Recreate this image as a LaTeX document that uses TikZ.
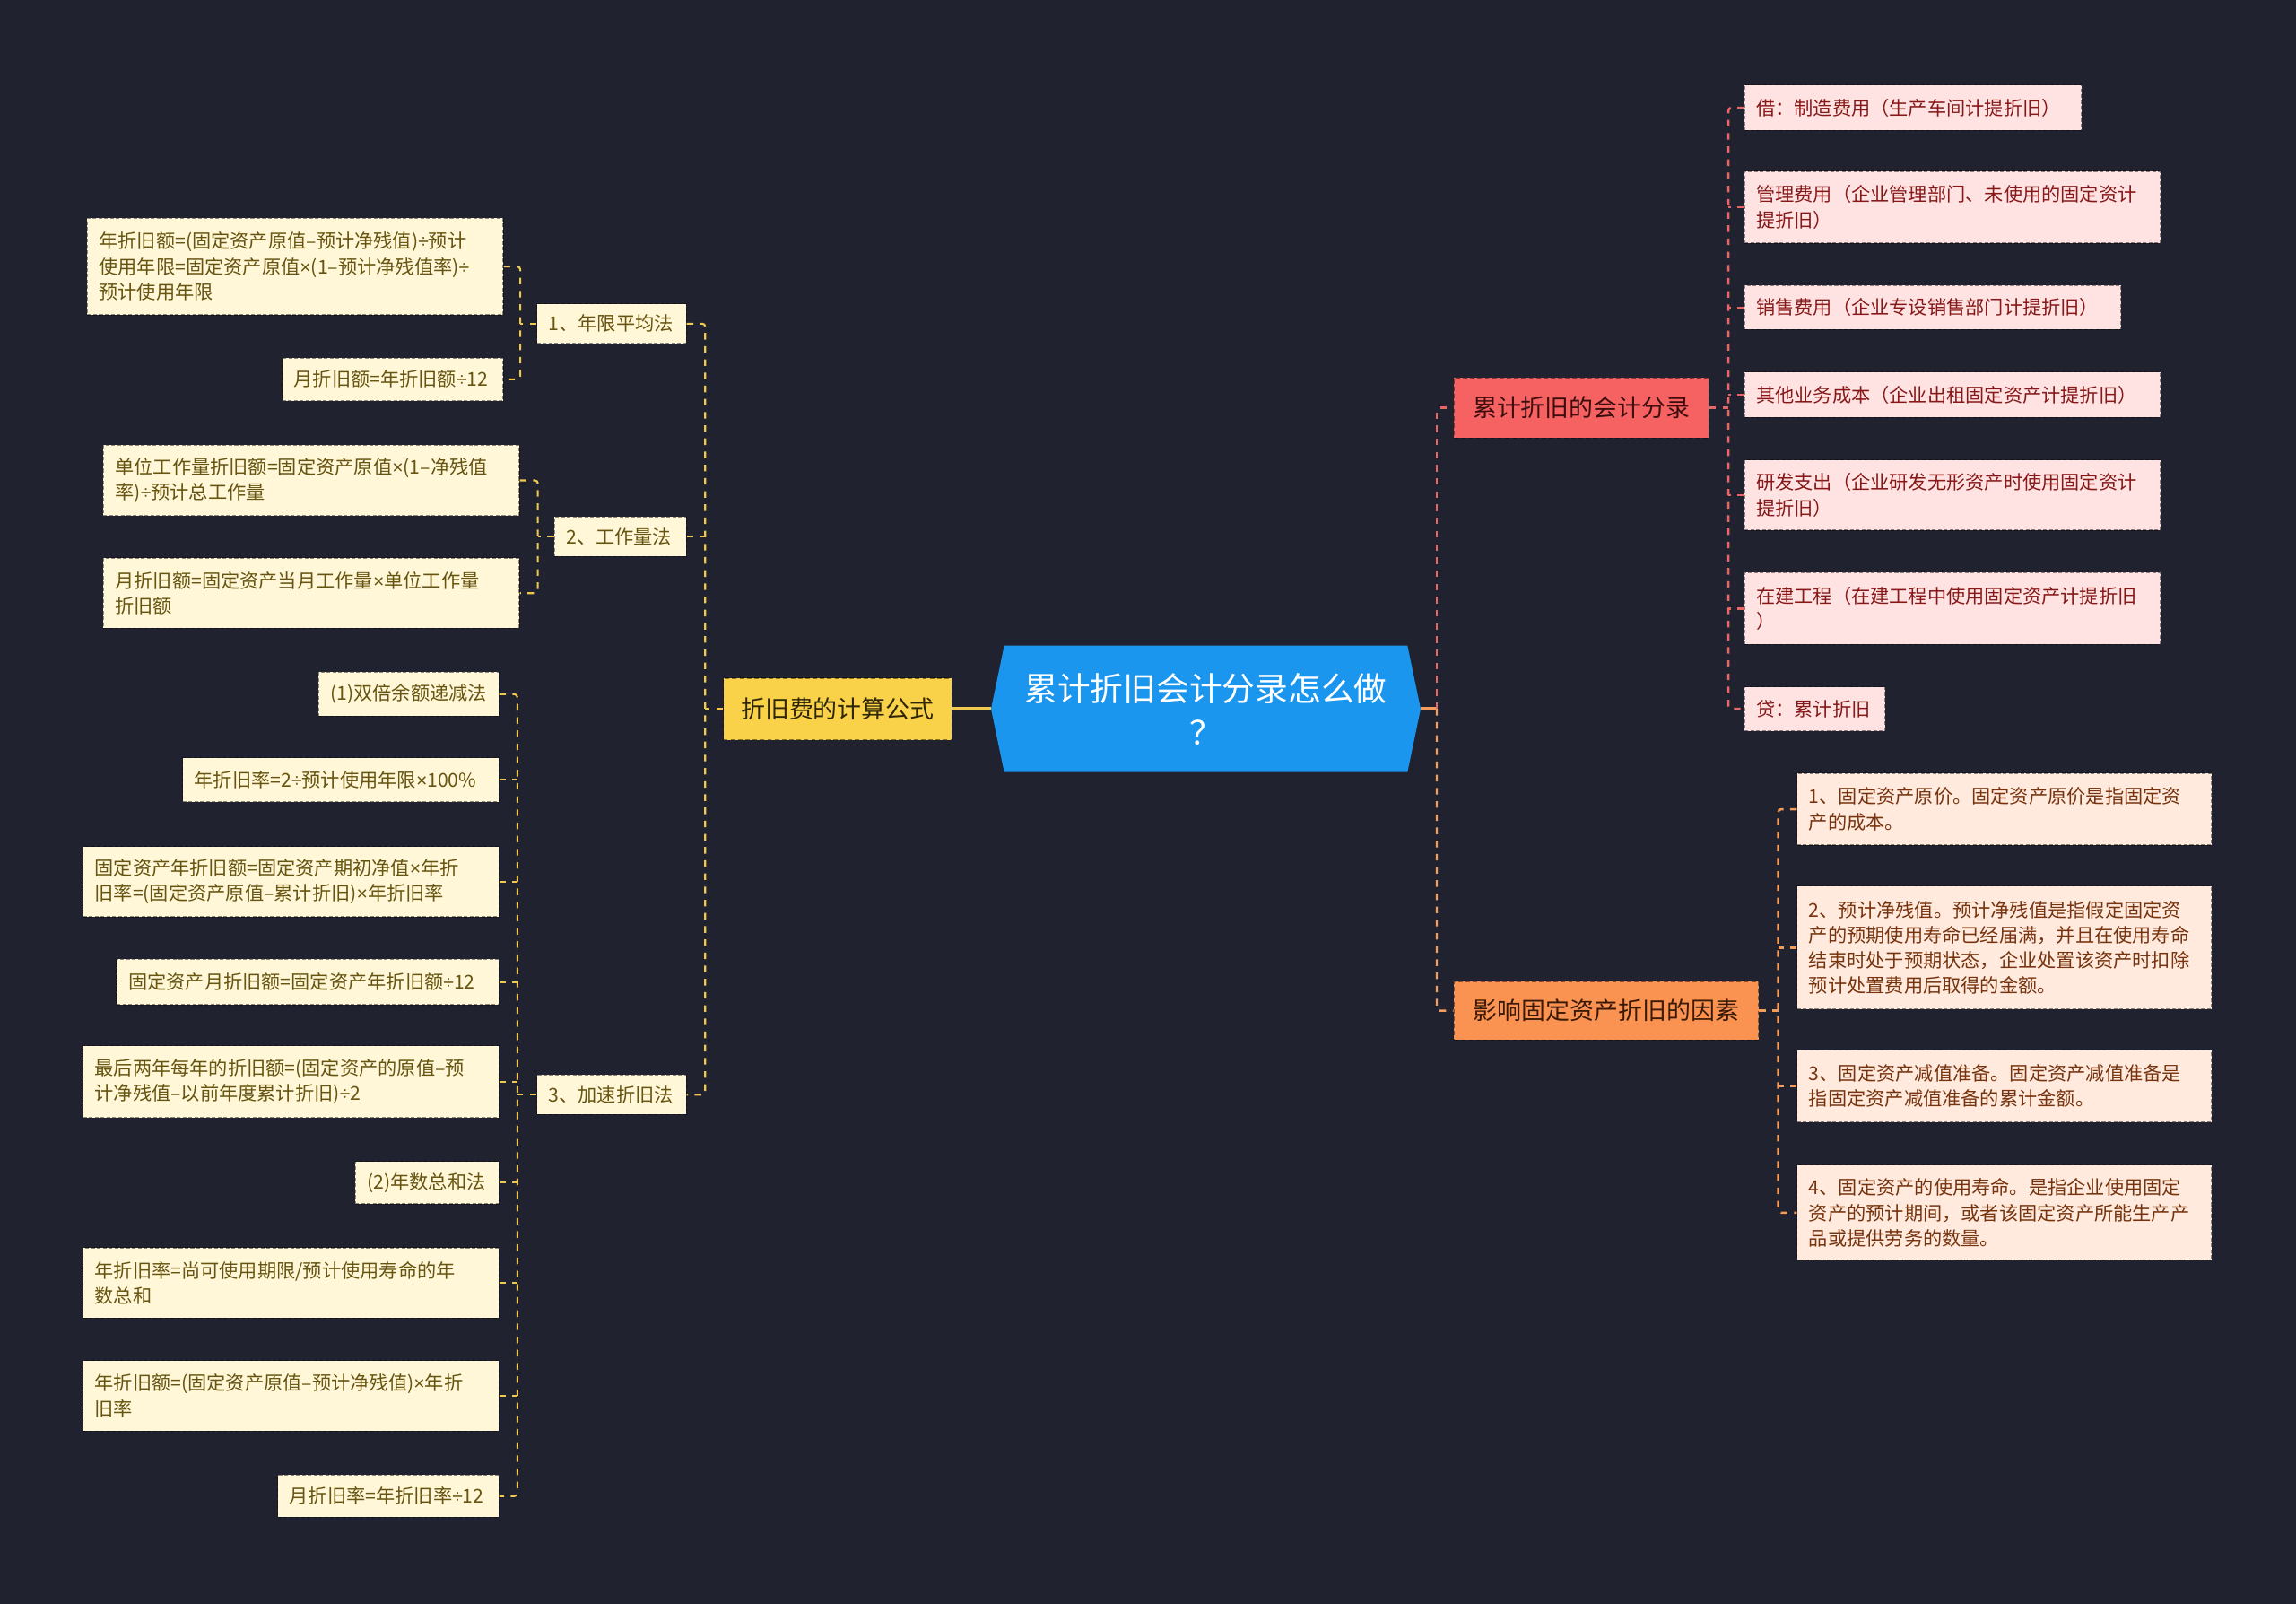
\documentclass[tikz,border=0pt]{standalone}
\usepackage{fontspec}
\setmainfont{Noto Sans CJK SC}
\newfontfamily\narrowsym{Liberation Sans}
\newcommand{\tms}{{\narrowsym ×}}
\newcommand{\dvs}{{\narrowsym ÷}}
\usetikzlibrary{calc}
\pgfdeclarelayer{background}
\pgfsetlayers{background,main}
\definecolor{bgc}{HTML}{20232F}
\definecolor{cblue}{HTML}{1B96EF}
\definecolor{ytop}{HTML}{F9D24A}
\definecolor{ytoptext}{HTML}{2E2606}
\definecolor{ylfill}{HTML}{FFF7D7}
\definecolor{yltext}{HTML}{665410}
\definecolor{ylink}{HTML}{EFC84F}
\definecolor{rtop}{HTML}{F66262}
\definecolor{rtoptext}{HTML}{3E0E0E}
\definecolor{rlfill}{HTML}{FFE3E3}
\definecolor{rltext}{HTML}{861818}
\definecolor{rlink}{HTML}{E86666}
\definecolor{otop}{HTML}{FA9352}
\definecolor{otoptext}{HTML}{3A1A06}
\definecolor{olfill}{HTML}{FFEADD}
\definecolor{oltext}{HTML}{76330E}
\definecolor{olink}{HTML}{F49C5C}
\tikzset{
  nbox/.style={rectangle, inner xsep=8pt, inner ysep=0pt, align=left,
    font=\fontsize{13}{17.3}\selectfont, line width=0.7pt,
    dash pattern=on 2.5pt off 1.5pt, draw opacity=0.45},
  ylt/.style={nbox, fill=ylfill, draw=black, text=yltext},
  rlt/.style={nbox, fill=rlfill, draw=black, text=rltext},
  olt/.style={nbox, fill=olfill, draw=black, text=oltext},
  topic/.style={rectangle, inner sep=0pt, align=center,
    font=\fontsize{16.5}{20}\selectfont, line width=0.8pt,
    dash pattern=on 3pt off 2pt, draw opacity=0.45},
  ytopic/.style={topic, fill=ytop, draw=black, text=ytoptext},
  rtopic/.style={topic, fill=rtop, draw=black, text=rtoptext},
  otopic/.style={topic, fill=otop, draw=black, text=otoptext},
  ylinkd/.style={draw=ylink, line width=1.3pt, dash pattern=on 4.5pt off 4.5pt, rounded corners=2pt},
  rlinkd/.style={draw=rlink, line width=1.5pt, dash pattern=on 4.5pt off 4.5pt, rounded corners=2pt},
  olinkd/.style={draw=olink, line width=1.5pt, dash pattern=on 4.5pt off 4.5pt, rounded corners=2pt},
}
\begin{document}
\begin{tikzpicture}[x=1pt,y=-1pt]
\useasboundingbox (0,0) rectangle (1568,1095);
\begin{pgfonlayer}{background}
\fill[bgc] (0,0) rectangle (1568,1095);
\end{pgfonlayer}

% root
\node[rectangle, minimum width=293pt, minimum height=86pt, inner sep=0pt,
  align=center, text=white, font=\fontsize{22.5}{30}\selectfont] (root) at (823.5,484)
  {累计折旧会计分录怎么做\\？};
\begin{pgfonlayer}{background}
\fill[cblue] ([xshift=9pt]root.north west) -- ([xshift=-9pt]root.north east) -- (root.east)
  -- ([xshift=-9pt]root.south east) -- ([xshift=9pt]root.south west) -- (root.west) -- cycle;
\end{pgfonlayer}

% left topic
\node[ytopic, minimum width=156pt, minimum height=42pt] (fy) at (572,484) {折旧费的计算公式};
\node[ylt, anchor=east, text width=86pt, minimum height=27pt] (L1) at (469,221) {1、年限平均法};
\node[ylt, anchor=east, text width=74pt, minimum height=27pt] (L2) at (469,366.5) {2、工作量法};
\node[ylt, anchor=east, text width=86pt, minimum height=27pt] (L3) at (469,747.5) {3、加速折旧法};

\node[ylt, anchor=east, text width=268pt, minimum height=66pt] (a1) at (344,182)
  {年折旧额=(固定资产原值–预计净残值)\dvs 预计\\使用年限=固定资产原值\tms(1–预计净残值率)\dvs\\预计使用年限};
\node[ylt, anchor=east, text width=135pt, minimum height=29pt] (a2) at (344,259) {月折旧额=年折旧额\dvs 12};

\node[ylt, anchor=east, text width=268pt, minimum height=48pt] (b1) at (355,328)
  {单位工作量折旧额=固定资产原值\tms(1–净残值\\率)\dvs 预计总工作量};
\node[ylt, anchor=east, text width=268pt, minimum height=48pt] (b2) at (355,405)
  {月折旧额=固定资产当月工作量\tms 单位工作量\\折旧额};

\node[ylt, anchor=east, text width=107pt, minimum height=30pt] (c1) at (341,474) {(1)双倍余额递减法};
\node[ylt, anchor=east, text width=200pt, minimum height=30pt] (c2) at (341,532.5) {年折旧率=2\dvs 预计使用年限\tms 100\%};
\node[ylt, anchor=east, text width=268pt, minimum height=48pt] (c3) at (341,602)
  {固定资产年折旧额=固定资产期初净值\tms 年折\\旧率=(固定资产原值–累计折旧)\tms 年折旧率};
\node[ylt, anchor=east, text width=245pt, minimum height=31pt] (c4) at (341,670.5) {固定资产月折旧额=固定资产年折旧额\dvs 12};
\node[ylt, anchor=east, text width=268pt, minimum height=49pt] (c5) at (341,738.5)
  {最后两年每年的折旧额=(固定资产的原值–预\\计净残值–以前年度累计折旧)\dvs 2};
\node[ylt, anchor=east, text width=82pt, minimum height=29pt] (c6) at (341,807.5) {(2)年数总和法};
\node[ylt, anchor=east, text width=268pt, minimum height=48pt] (c7) at (341,876)
  {年折旧率=尚可使用期限/预计使用寿命的年\\数总和};
\node[ylt, anchor=east, text width=268pt, minimum height=48pt] (c8) at (341,953)
  {年折旧额=(固定资产原值–预计净残值)\tms 年折\\旧率};
\node[ylt, anchor=east, text width=135pt, minimum height=29pt] (c9) at (341,1021.5) {月折旧率=年折旧率\dvs 12};

% right topics
\node[rtopic, minimum width=174pt, minimum height=41pt] (red) at (1080,278.5) {累计折旧的会计分录};
\node[otopic, minimum width=208pt, minimum height=40pt] (org) at (1097,690) {影响固定资产折旧的因素};

\node[rlt, anchor=west, text width=214pt, minimum height=31pt] (r1) at (1191,73.5) {借：制造费用（生产车间计提折旧）};
\node[rlt, anchor=west, text width=268pt, minimum height=49pt] (r2) at (1191,141.5)
  {管理费用（企业管理部门、未使用的固定资计\\提折旧）};
\node[rlt, anchor=west, text width=241pt, minimum height=30pt] (r3) at (1191,210) {销售费用（企业专设销售部门计提折旧）};
\node[rlt, anchor=west, text width=268pt, minimum height=31pt] (r4) at (1191,269.5) {其他业务成本（企业出租固定资产计提折旧）};
\node[rlt, anchor=west, text width=268pt, minimum height=48pt] (r5) at (1191,338)
  {研发支出（企业研发无形资产时使用固定资计\\提折旧）};
\node[rlt, anchor=west, text width=268pt, minimum height=49pt] (r6) at (1191,415.5)
  {在建工程（在建工程中使用固定资产计提折旧\\）};
\node[rlt, anchor=west, text width=80pt, minimum height=30pt] (r7) at (1191,484) {贷：累计折旧};

\node[olt, anchor=west, text width=267pt, minimum height=49pt] (o1) at (1227,552.5)
  {1、固定资产原价。固定资产原价是指固定资\\产的成本。};
\node[olt, anchor=west, text width=267pt, minimum height=84pt] (o2) at (1227,647)
  {2、预计净残值。预计净残值是指假定固定资\\产的预期使用寿命已经届满，并且在使用寿命\\结束时处于预期状态，企业处置该资产时扣除\\预计处置费用后取得的金额。};
\node[olt, anchor=west, text width=267pt, minimum height=49pt] (o3) at (1227,741.5)
  {3、固定资产减值准备。固定资产减值准备是\\指固定资产减值准备的累计金额。};
\node[olt, anchor=west, text width=267pt, minimum height=65pt] (o4) at (1227,828)
  {4、固定资产的使用寿命。是指企业使用固定\\资产的预计期间，或者该固定资产所能生产产\\品或提供劳务的数量。};

% ---------- connectors ----------
\draw[draw=ylink, line width=2.5pt] (root.west) -- (fy.east);
\coordinate (sL) at ($(fy.west)+(-12,0)$);
\draw[ylinkd] (fy.west) -- (sL);
\draw[ylinkd] (L1.east) -| (sL) |- (L3.east);
\draw[ylinkd] (L2.east) -- (L2.east -| sL);

\coordinate (s1) at ($(L1.west)+(-11,0)$);
\draw[ylinkd] (L1.west) -- (s1);
\draw[ylinkd] (a1.east) -| (s1) |- (a2.east);

\coordinate (s2) at ($(L2.west)+(-11,0)$);
\draw[ylinkd] (L2.west) -- (s2);
\draw[ylinkd] (b1.east) -| (s2) |- (b2.east);

\coordinate (s3) at ($(L3.west)+(-13,0)$);
\draw[ylinkd] (L3.west) -- (s3);
\draw[ylinkd] (c1.east) -| (s3) |- (c9.east);
\foreach \n in {c2,c3,c4,c5,c6,c7,c8} {\draw[ylinkd] (\n.east) -- (\n.east -| s3);}

\coordinate (sR) at ($(root.east)+(11,0)$);
\draw[draw=olink, line width=2.5pt] (root.east) -- (sR);
\draw[rlinkd] (sR) |- (red.west);
\draw[olinkd] (sR) |- (org.west);

\coordinate (sr) at ($(red.east)+(13,0)$);
\draw[rlinkd] (red.east) -- (sr);
\draw[rlinkd] (r1.west) -| (sr) |- (r7.west);
\foreach \n in {r2,r3,r4,r5,r6} {\draw[rlinkd] (\n.west) -- (\n.west -| sr);}

\coordinate (so) at ($(org.east)+(13,0)$);
\draw[olinkd] (org.east) -- (so);
\draw[olinkd] (o1.west) -| (so) |- (o4.west);
\foreach \n in {o2,o3} {\draw[olinkd] (\n.west) -- (\n.west -| so);}
\end{tikzpicture}
\end{document}
